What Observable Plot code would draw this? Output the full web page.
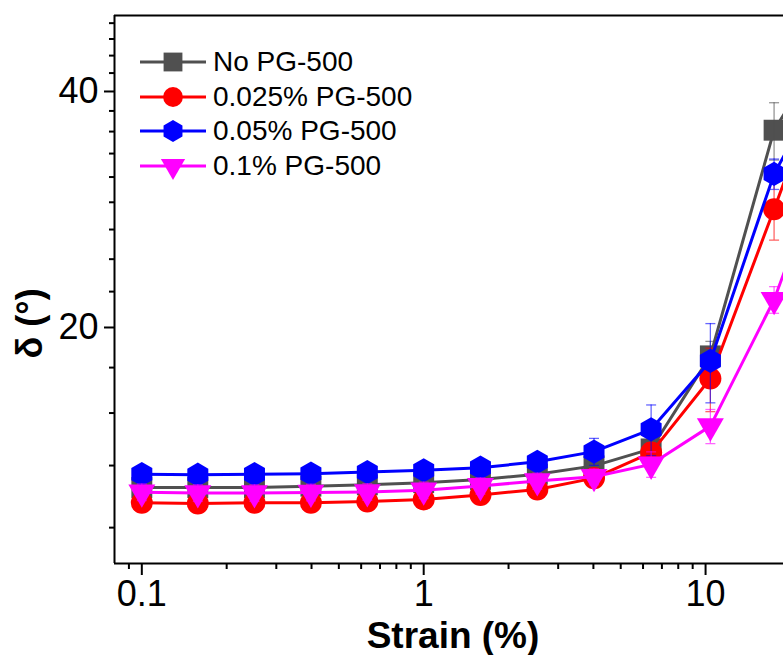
<!DOCTYPE html>
<html><head><meta charset="utf-8">
<script src="https://cdn.jsdelivr.net/npm/d3@7"></script>
<script src="https://cdn.jsdelivr.net/npm/@observablehq/plot@0.6"></script>
<style>
body{margin:0;background:#fff;overflow:hidden;}
#wrap{position:relative;width:783px;height:655px;overflow:hidden;}
#legend{position:absolute;left:0;top:0;font-family:"Liberation Sans",Arial,sans-serif;font-size:28px;color:#000;}
.row{position:absolute;display:flex;align-items:center;height:34px;white-space:nowrap;}
.row svg{display:block;margin-right:7px;}
</style></head><body><div id="wrap"><div id="legend"></div></div>
<script>
// Strain (%) values (last point lies beyond the visible right edge)
const strain = [0.1, 0.158, 0.251, 0.398, 0.631, 1.0, 1.59, 2.53, 4.02, 6.41, 10.4, 17.5, 28];
const seriesNames = ["No PG-500", "0.025% PG-500", "0.05% PG-500", "0.1% PG-500"];
// phase angle δ (°)
const noPG      = [12.5, 12.5, 12.5, 12.55, 12.6, 12.68, 12.8, 13.0, 13.32, 14.0, 18.4, 35.7, 46.9];
const noPGErr   = [0.3, 0.3, 0.3, 0.3, 0.3, 0.3, 0.3, 0.3, 0.3, 0.4, 0.8, 3.0, 2.0];
const pg025     = [11.95, 11.93, 11.95, 11.95, 12.0, 12.07, 12.23, 12.43, 12.85, 13.85, 17.22, 28.3, 44.8];
const pg025Err  = [0.25, 0.25, 0.25, 0.25, 0.25, 0.3, 0.3, 0.3, 0.35, 0.4, 1.6, 2.45, 2.0];
const pg05      = [13.0, 12.98, 13.0, 13.02, 13.08, 13.15, 13.25, 13.48, 13.89, 14.83, 18.13, 31.4, 42.7];
const pg05Err   = [0.1, 0.1, 0.1, 0.1, 0.1, 0.15, 0.15, 0.2, 0.55, 1.1, 2.1, 1.4, 1.5];
const pg1       = [12.33, 12.3, 12.3, 12.32, 12.34, 12.4, 12.56, 12.74, 12.9, 13.38, 14.97, 21.7, 34.3];
const pg1Err    = [0.3, 0.3, 0.3, 0.3, 0.3, 0.3, 0.3, 0.3, 0.3, 0.5, 0.75, 0.85, 1.0];
// axis ticks and titles
const xMajor = [0.1, 1, 10];
const xMinor = [0.09, 0.2, 0.3, 0.4, 0.5, 0.6, 0.7, 0.8, 0.9, 2, 3, 4, 5, 6, 7, 8, 9];
const yMajor = [20, 40];
const yMinor = [11.111, 13.333, 15.556, 17.778, 22.222, 24.444, 26.667, 28.889, 31.111, 33.333, 35.556, 37.778, 42.222, 44.444, 46.667, 48.889];
const xTitle = "Strain (%)";
const yTitle = "δ (°)";

const values = [noPG, pg025, pg05, pg1];
const errors = [noPGErr, pg025Err, pg05Err, pg1Err];
const colors = ["#505050", "#ff0000", "#0000ff", "#ff00ff"];
const symbols = ["square", "circle", "hexagon", "triangle"];
const radii = [11.8, 11, 10.5, 10];
const rotations = [0, 0, 0, 180];

const capSymbol = {draw(ctx) { ctx.moveTo(-5, 0); ctx.lineTo(5, 0); }};

const marks = [];
seriesNames.forEach((name, s) => {
  const rows = strain.map((x, i) => ({strain: x, delta: values[s][i], err: errors[s][i]}));
  marks.push(Plot.line(rows, {x: "strain", y: "delta", stroke: colors[s], strokeWidth: 3, clip: true}));
  marks.push(Plot.dot(rows, {x: "strain", y: "delta", symbol: symbols[s], r: radii[s], fill: colors[s], stroke: "none", rotate: rotations[s], clip: true}));
  marks.push(Plot.ruleX(rows, {x: "strain", y1: d => d.delta - d.err, y2: d => d.delta + d.err, stroke: colors[s], strokeWidth: 1.3, strokeOpacity: 0.6, clip: true}));
  marks.push(Plot.dot(rows, {x: "strain", y: d => d.delta + d.err, symbol: capSymbol, r: 3, stroke: colors[s], strokeWidth: 1.3, strokeOpacity: 0.6, fill: "none", clip: true}));
  marks.push(Plot.dot(rows, {x: "strain", y: d => d.delta - d.err, symbol: capSymbol, r: 3, stroke: colors[s], strokeWidth: 1.3, strokeOpacity: 0.6, fill: "none", clip: true}));
});

const chart = Plot.plot({
  width: 783, height: 655,
  marginLeft: 114, marginTop: 15, marginRight: 0, marginBottom: 92,
  style: {fontFamily: "'Liberation Sans', Arial, sans-serif", background: "#fff", color: "#000"},
  x: {type: "log", domain: [0.08, 18.9]},
  y: {type: "log", domain: [10, 50]},
  marks: [
    Plot.axisX({ticks: xMinor, tickSize: 6, strokeWidth: 2, tickFormat: () => "", label: null}),
    Plot.axisX({ticks: xMajor, tickSize: 12, strokeWidth: 2, tickPadding: 5, fontSize: 36, tickFormat: d => String(d), label: null}),
    Plot.axisY({ticks: yMinor, tickSize: 5, strokeWidth: 2, tickFormat: () => "", label: null}),
    Plot.axisY({ticks: yMajor, tickSize: 10, strokeWidth: 2, tickPadding: 6, fontSize: 36, tickFormat: d => String(d), label: null}),
    Plot.text([xTitle], {text: d => d, frameAnchor: "bottom", dx: 4, dy: 84, fontSize: 37, fontWeight: "bold"}),
    Plot.text([yTitle], {text: d => d, frameAnchor: "left", dx: -84, dy: 69, rotate: -90, fontSize: 36, fontWeight: "bold"}),
    Plot.ruleX([0.08], {stroke: "#000", strokeWidth: 2}),
    Plot.ruleY([10], {stroke: "#000", strokeWidth: 2}),
    Plot.ruleY([50], {stroke: "#000", strokeWidth: 2}),
    ...marks
  ]
});
document.getElementById("wrap").prepend(chart);

// legend
const legend = document.getElementById("legend");
function hexPath(r) {
  const ry = r * 2 / Math.sqrt(3), hy = ry / 2;
  return `M0,${ry}L${r},${hy}L${r},${-hy}L0,${-ry}L${-r},${-hy}L${-r},${hy}Z`;
}
const d3sym = {square: d3.symbolSquare, circle: d3.symbolCircle, triangle: d3.symbolTriangle};
seriesNames.forEach((name, s) => {
  const row = document.createElement("div");
  row.className = "row";
  row.style.left = "140px";
  row.style.top = (45 + s * 34.5) + "px";
  const r = radii[s] * 0.9;
  const path = symbols[s] === "hexagon" ? hexPath(r) : d3.symbol(d3sym[symbols[s]], Math.PI * r * r)();
  row.innerHTML = `<svg width="66" height="34"><line x1="0" x2="66" y1="17" y2="17" stroke="${colors[s]}" stroke-width="3"/>` +
    `<path d="${path}" transform="translate(33,17) rotate(${rotations[s]})" fill="${colors[s]}"/></svg><span>${name}</span>`;
  legend.appendChild(row);
});
</script></body></html>
